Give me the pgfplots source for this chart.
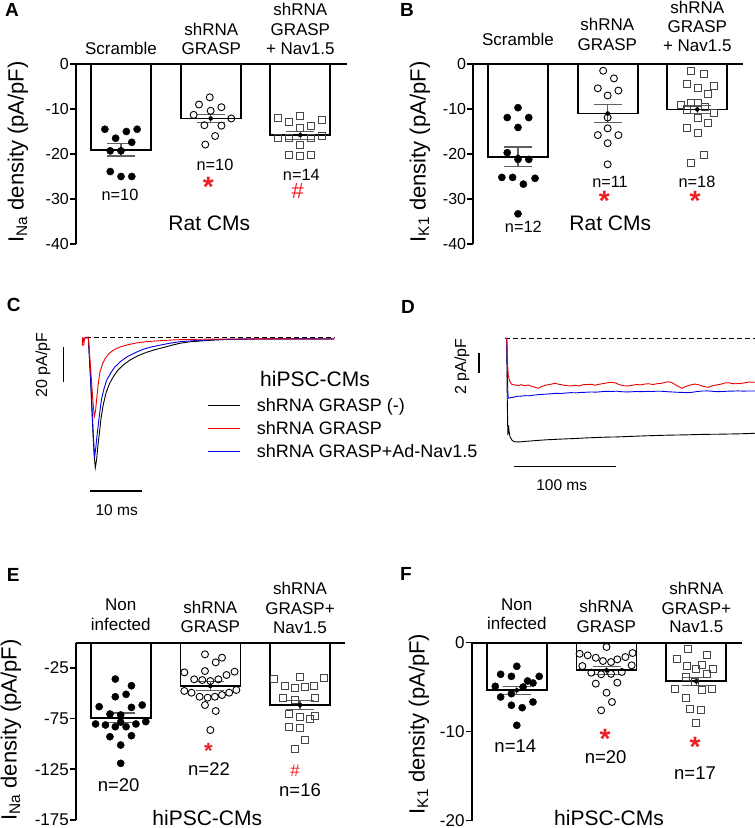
\documentclass[border=0pt]{standalone}
\usepackage{fontspec}
\setmainfont{Liberation Sans}
\usepackage{pgfplots}
\pgfplotsset{compat=1.18}
\newcommand\fs[1]{\fontsize{#1}{#1}\selectfont}
\definecolor{sigred}{RGB}{235,30,35}
\definecolor{trred}{RGB}{235,0,0}
\definecolor{trblue}{RGB}{0,0,235}
\definecolor{errgray}{RGB}{95,95,95}
\definecolor{sqgray}{RGB}{70,70,70}

\pgfplotsset{
  barpanel/.style={
    anchor=south west, clip=false,
    axis x line=top, axis y line=left,
    axis line style={-, line width=1.7pt},
    every outer x axis line/.append style={-},
    every outer y axis line/.append style={-},
    xtick=\empty,
    tick align=outside, major tick length=6pt,
    major tick style={line width=1.5pt, black},
    yticklabel style={inner sep=1pt},
  },
  bars/.style={ybar, bar width=60pt, bar shift=0pt, draw=black, line width=1.7pt, fill=white},
  filled/.style={only marks, mark=*, mark size=3.6pt, black},
  opencirc/.style={only marks, mark=o, mark size=3.5pt, black, mark options={line width=0.9pt}},
  opensq/.style={only marks, mark=square, mark size=3.5pt, sqgray, mark options={line width=0.9pt}},
  sem/.style={only marks, mark=none, error bars/.cd, y dir=both, y explicit,
    error bar style={line width=1.1pt, errgray},
    error mark options={rotate=90, mark size=14pt, line width=1.1pt, errgray}},
  trace/.style={hide axis, anchor=south west, clip=false},
}

\begin{document}
\begin{tikzpicture}
\path[use as bounding box] (0pt,0pt) rectangle (755pt,-828pt);

% ---------------- A ----------------
\begin{axis}[barpanel, at={(76pt,-244pt)}, x=89.65pt, y=4.5pt,
  xmin=-0.502, xmax=2.52, ymin=-40, ymax=0,
  ytick={-40,-30,-20,-10,0}, yticklabels={-40,-30,-20,-10,0},
  yticklabel style={font=\fs{16}}]
\addplot[bars] coordinates {(0,-19.1) (1,-12.1) (2,-15.8)};
\addplot[filled] coordinates {(-0.18,-14.5) (0.06,-15.0) (0.18,-14.5) (-0.06,-16.5) (0.12,-17.4)
  (-0.12,-19.3) (0,-19.3) (-0.12,-23.9) (0,-25.0) (0.12,-25.0)};
\addplot[opencirc] coordinates {(0.99,-7.4) (0.87,-9.0) (1.12,-9.6) (1.0,-10.4) (0.81,-11.3)
  (1.23,-12.1) (0.93,-13.6) (1.12,-13.7) (1.05,-16.0) (0.94,-17.9)};
\addplot[opensq] coordinates {(1.75,-11.9) (2.0,-11.6) (2.24,-12.4) (1.87,-12.8) (2.12,-13.7)
  (2.0,-14.1) (1.75,-16.5) (1.87,-16.5) (2.12,-16.5) (2.24,-16.0) (2.0,-18.0) (1.87,-20.2)
  (2.0,-20.4) (2.12,-20.2)};
\addplot[sem] coordinates {(0,-19.1) +- (0,1.35) (1,-12.1) +- (0,0.95) (2,-15.8) +- (0,0.9)};
\end{axis}

% ---------------- B ----------------
\begin{axis}[barpanel, at={(473.3pt,-244pt)}, x=89.65pt, y=4.5pt,
  xmin=-0.4986, xmax=2.513, ymin=-40, ymax=0,
  ytick={-40,-30,-20,-10,0}, yticklabels={-40,-30,-20,-10,0},
  yticklabel style={font=\fs{16}}]
\addplot[bars] coordinates {(0,-20.6) (1,-11.0) (2,-10.1)};
\addplot[filled] coordinates {(0,-9.7) (-0.12,-11.9) (0.12,-11.9) (0,-14.1) (-0.12,-19.7)
  (0,-21.2) (0.12,-21.2) (-0.18,-25.2) (-0.06,-25.2) (0.06,-26.7) (0.19,-25.4) (0,-33.3)};
\addplot[opencirc] coordinates {(0.95,-1.5) (1.07,-3.2) (0.89,-5.4) (1.12,-5.9) (1.0,-7.0)
  (1.0,-11.9) (1.0,-14.3) (0.89,-15.8) (1.12,-15.8) (1.0,-17.6) (1.0,-22.3)};
\addplot[opensq] coordinates {(1.93,-1.6) (2.07,-2.3) (1.88,-4.5) (2.01,-5.3) (2.19,-4.9)
  (2.12,-6.7) (1.82,-9.0) (1.93,-8.7) (1.89,-10.1) (2.01,-8.7) (2.08,-9.5) (2.19,-10.8)
  (2.01,-11.9) (2.12,-13.0) (1.88,-14.3) (2.01,-15.3) (1.93,-21.9) (2.07,-20.1)};
\addplot[sem] coordinates {(0,-20.6) +- (0,2.15) (1,-11.0) +- (0,2.0) (2,-10.1) +- (0,0.95)};
\end{axis}

% ---------------- C ----------------
\begin{axis}[trace, at={(80.83pt,-477.3pt)}, x=5.17pt, y=1.75pt,
  xmin=-1, xmax=48, ymin=-80, ymax=2]
\addplot[black, line width=1.4pt, dash pattern=on 5pt off 3pt] coordinates {(0,0) (48,0)};
\addplot[black, line width=0.9pt] coordinates {(-0.2,0) (0.45,0) (0.9,-25) (1.35,-55) (1.6,-68)
  (1.8,-74.5) (2.05,-70) (2.3,-62) (2.55,-55.8) (2.9,-46.5) (3.32,-38.7) (3.9,-31.5) (4.6,-26.1)
  (5.4,-22) (6.2,-18.7) (7.3,-15.6) (8.5,-13.0) (10,-10.6) (11.7,-8.6) (13.3,-7.1) (14.9,-5.9)
  (16.5,-4.6) (18.2,-3.4) (20,-2.6) (22.1,-2.1) (24.5,-1.6) (27.2,-1.2) (31,-1.0) (36,-0.9)
  (42,-0.9) (48,-1.0)};
\addplot[trblue, line width=0.9pt] coordinates {(-0.6,0) (-0.6,-3) (-0.3,-0.5) (0.45,0) (0.9,-24)
  (1.35,-52) (1.65,-68.8) (1.9,-63) (2.1,-57) (2.37,-50.1) (2.7,-42) (3.03,-34.9) (3.5,-29.2)
  (4.0,-24.5) (4.8,-20.3) (5.6,-16.9) (6.7,-13.8) (7.9,-11.2) (9.5,-8.8) (11.1,-6.8) (12.7,-5.5)
  (14.3,-4.5) (16.2,-3.4) (18.2,-2.5) (21,-1.9) (24,-1.5) (29,-1.1) (36,-0.9) (48,-0.9)};
\addplot[trred, line width=0.9pt] coordinates {(-0.7,0) (-0.7,-4.5) (-0.4,-4.2) (-0.3,-0.5)
  (0.45,0) (0.9,-18) (1.3,-35) (1.6,-45.3) (1.85,-42) (2.07,-35.0) (2.4,-26) (2.7,-19.8)
  (3.2,-15.2) (3.7,-12.1) (4.4,-9.4) (5.3,-7.3) (6.5,-5.6) (7.9,-4.4) (9.6,-3.3) (11.7,-2.5)
  (14.5,-1.9) (17.6,-1.4) (22,-1.1) (27,-1.0) (35,-0.9) (48,-1.0)};
\end{axis}

% ---------------- D ----------------
\begin{axis}[trace, at={(505pt,-449.5pt)}, x=1.013pt, y=9.67pt,
  xmin=0, xmax=247, ymin=-11.5, ymax=0.5]
\addplot[black, line width=1.4pt, dash pattern=on 5pt off 3pt] coordinates {(0,0) (247,0)};
\addplot[black, line width=0.9pt] coordinates {(0,0) (1.7,0) (2.2,-6) (2.8,-10.0) (3.2,-9.6)
  (3.5,-9.0) (4.0,-9.6) (5.0,-10.2) (7,-10.55) (9,-10.68) (12,-10.72) (16,-10.7) (20,-10.66)
  (25,-10.62) (30,-10.58) (40,-10.5) (50,-10.45) (60,-10.4) (70,-10.36) (80,-10.3) (90,-10.26)
  (100,-10.22) (110,-10.2) (120,-10.16) (130,-10.12) (140,-10.08) (150,-10.05) (160,-10.02)
  (170,-10.0) (180,-9.98) (190,-9.95) (200,-9.93) (210,-9.92) (220,-9.9) (230,-9.88)
  (240,-9.85) (246.8,-9.82)};
\addplot[trblue, line width=0.9pt] coordinates {(0,0) (1.7,0) (2.3,-3.5) (2.8,-5.6) (3.3,-6.2)
  (5,-6.15) (8,-6.1) (12,-6.0) (16,-5.98) (20,-5.93) (24,-5.95) (28,-5.88) (32,-5.84) (36,-5.8)
  (40,-5.78) (45,-5.74) (50,-5.69) (55,-5.71) (60,-5.66) (65,-5.62) (70,-5.64) (75,-5.6)
  (80,-5.58) (85,-5.55) (90,-5.57) (95,-5.52) (100,-5.48) (105,-5.5) (110,-5.47) (115,-5.52)
  (120,-5.55) (125,-5.53) (130,-5.5) (135,-5.52) (140,-5.49) (145,-5.5) (150,-5.47) (155,-5.48)
  (160,-5.52) (165,-5.55) (170,-5.58) (175,-5.6) (180,-5.62) (185,-5.58) (190,-5.5) (195,-5.45)
  (200,-5.44) (205,-5.48) (210,-5.52) (215,-5.5) (220,-5.47) (225,-5.46) (230,-5.44)
  (235,-5.46) (240,-5.45) (246.8,-5.45)};
\addplot[trred, line width=0.9pt] coordinates {(0,0) (1.7,0) (2.5,-2.5) (3.2,-3.8) (4.5,-4.4)
  (6.5,-4.75) (9.9,-4.83) (13,-4.88) (16,-4.8) (19,-4.9) (23,-4.83) (26,-4.95) (29,-5.05)
  (32.9,-5.17) (36,-5.0) (40,-4.85) (44,-4.78) (49.4,-4.65) (53,-4.75) (57,-4.82) (61,-4.9)
  (65.8,-4.93) (69,-4.85) (73,-4.92) (77,-4.8) (81,-4.78) (85.5,-4.76) (89,-4.85) (93,-4.75)
  (97,-4.68) (101,-4.6) (105.3,-4.55) (109,-4.62) (113,-4.8) (117,-4.9) (121.8,-4.93)
  (126,-4.85) (130,-4.78) (134,-4.82) (138.2,-4.73) (142,-4.7) (146,-4.78) (150,-4.7)
  (154.7,-4.65) (158,-4.55) (161.3,-4.49) (165,-4.6) (169,-4.85) (174.4,-5.17) (178,-5.0)
  (182,-4.85) (187.6,-4.73) (191,-4.8) (195,-4.95) (200.7,-5.07) (205,-4.9) (209,-4.82)
  (213,-4.75) (217,-4.62) (220.5,-4.59) (224,-4.68) (228,-4.7) (233.7,-4.65) (237,-4.6)
  (241,-4.52) (246.8,-4.55)};
\end{axis}

% ---------------- E ----------------
\begin{axis}[barpanel, at={(76pt,-819.8pt)}, x=89.65pt, y=1.012pt,
  xmin=-0.4986, xmax=2.502, ymin=-175, ymax=0,
  ytick={-175,-125,-75,-25}, yticklabels={-175,-125,-75,-25},
  yticklabel style={font=\fs{17}}]
\addplot[bars] coordinates {(0,-74.1) (1,-42.8) (2,-61.6)};
\addplot[filled] coordinates {(-0.06,-35.9) (0.12,-42.5) (-0.06,-53.4) (0.06,-51.0) (-0.24,-63.2)
  (0.12,-63.9) (0.24,-61.6) (-0.12,-70.5) (0,-71.4) (-0.28,-80.3) (-0.17,-81.3) (-0.06,-83.0)
  (0.06,-83.0) (0.17,-80.3) (0.28,-78.0) (0,-78.5) (-0.12,-92.9) (0.12,-91.9) (0,-101.1)
  (0,-119.2)};
\addplot[opencirc] coordinates {(0.94,-11.5) (1.13,-14.8) (1.06,-19.4) (0.94,-28.0) (0.71,-29.3)
  (1.27,-28.6) (0.82,-36.2) (0.91,-36.9) (1.0,-37.8) (1.09,-36.2) (1.18,-31.9) (0.71,-47.7)
  (0.79,-49.4) (0.88,-53.4) (0.97,-54.3) (1.05,-53.4) (1.13,-51.7) (1.21,-49.4) (1.29,-46.7)
  (0.94,-61.6) (1.06,-67.5) (1.0,-86.3)};
\addplot[opensq] coordinates {(1.71,-35.9) (2.0,-34.2) (2.27,-35.2) (1.83,-42.8) (1.94,-45.1)
  (2.05,-43.5) (2.16,-42.8) (1.81,-54.3) (1.94,-56.6) (2.17,-54.3) (1.88,-70.8) (2.0,-73.1)
  (2.11,-75.4) (2.17,-72.1) (1.88,-83.0) (2.0,-84.0) (2.06,-96.1) (1.94,-105.0)};
\addplot[sem] coordinates {(0,-74.1) +- (0,4.6) (1,-42.8) +- (0,4.1) (2,-61.6) +- (0,4.1)};
\end{axis}

% ---------------- F ----------------
\begin{axis}[barpanel, at={(471.7pt,-820.7pt)}, x=89.75pt, y=8.9pt,
  xmin=-0.5025, xmax=2.506, ymin=-20, ymax=0,
  ytick={-20,-10,0}, yticklabels={-20,-10,0},
  yticklabel style={font=\fs{17}}]
\addplot[bars] coordinates {(0,-5.35) (1,-3.1) (2,-4.34)};
\addplot[filled] coordinates {(0,-2.65) (-0.18,-3.55) (-0.06,-3.78) (0.25,-3.78) (0.12,-4.3)
  (0.18,-4.53) (-0.24,-4.9) (0.07,-4.98) (-0.06,-5.73) (-0.18,-6.1) (-0.06,-7.03) (0.06,-7.3)
  (0.18,-6.66) (0,-9.28)};
\addplot[opencirc] coordinates {(1.0,-0.48) (0.70,-1.24) (0.79,-1.42) (0.88,-1.69) (0.96,-2.06)
  (1.05,-2.17) (1.12,-1.87) (1.21,-1.61) (1.29,-1.16) (0.73,-2.62) (1.28,-2.54) (0.83,-3.37)
  (0.94,-3.55) (1.05,-3.5) (1.17,-3.29) (0.88,-4.6) (1.12,-4.49) (1.0,-5.62) (1.06,-6.66)
  (0.94,-7.6)};
\addplot[opensq] coordinates {(1.91,-0.67) (2.12,-1.35) (1.78,-1.87) (1.90,-2.65) (2.0,-2.99)
  (2.06,-2.54) (2.18,-2.92) (2.12,-3.48) (1.88,-3.85) (1.99,-4.42) (1.76,-5.24) (2.06,-5.35)
  (2.17,-5.24) (1.88,-6.21) (1.93,-7.48) (2.05,-7.6) (2.0,-8.99)};
\addplot[sem] coordinates {(0,-5.35) +- (0,0.45) (1,-3.1) +- (0,0.45) (2,-4.34) +- (0,0.45)};
\end{axis}

% ---------------- texts ----------------
\begin{scope}[every node/.style={inner sep=0pt}]
% panel letters
\foreach \l/\x/\y in {A/5/16.7, B/400/16.7, C/6.7/311.7, D/401/313.3, E/6.7/581.7, F/400/580}
  \node[anchor=base west, font=\fs{19}\bfseries] at (\x pt,-\y pt) {\l};
% y labels
\node[rotate=90, font=\fs{22}] at (18pt,-152pt) {I\textsubscript{Na} density (pA/pF)};
\node[rotate=90, font=\fs{22}] at (420pt,-152pt) {I\textsubscript{K1} density (pA/pF)};
\node[rotate=90, font=\fs{22}] at (11pt,-730pt) {I\textsubscript{Na} density (pA/pF)};
\node[rotate=90, font=\fs{22}] at (419pt,-724pt) {I\textsubscript{K1} density (pA/pF)};
% A
\begin{scope}[every node/.append style={anchor=base, font=\fs{17}}]
\node at (121pt,-54pt) {Scramble};
\node at (211.3pt,-35pt) {shRNA};
\node at (211.3pt,-54pt) {GRASP};
\node at (300.3pt,-15pt) {shRNA};
\node at (300.3pt,-35pt) {GRASP};
\node at (300.3pt,-54pt) {+ Nav1.5};
% B
\node at (518pt,-45pt) {Scramble};
\node at (607.3pt,-30pt) {shRNA};
\node at (607.3pt,-50pt) {GRASP};
\node at (697.3pt,-13pt) {shRNA};
\node at (697.3pt,-32.5pt) {GRASP};
\node at (697.3pt,-51.5pt) {+ Nav1.5};
% E
\node at (120.7pt,-610.7pt) {Non};
\node at (120.7pt,-630pt) {infected};
\node at (210.3pt,-613.3pt) {shRNA};
\node at (210.3pt,-632.7pt) {GRASP};
\node at (300pt,-594pt) {shRNA};
\node at (300pt,-614pt) {GRASP+};
\node at (300pt,-633.3pt) {Nav1.5};
% F
\node at (516.8pt,-610pt) {Non};
\node at (516.8pt,-629.3pt) {infected};
\node at (606.3pt,-612.7pt) {shRNA};
\node at (606.3pt,-632.7pt) {GRASP};
\node at (696.3pt,-594pt) {shRNA};
\node at (696.3pt,-614pt) {GRASP+};
\node at (696.3pt,-632.7pt) {Nav1.5};
\end{scope}
% n labels
\begin{scope}[every node/.append style={anchor=base, font=\fs{16.3}}]
\node at (120pt,-200pt) {n=10};
\node at (215pt,-170.7pt) {n=10};
\node at (301.3pt,-180pt) {n=14};
\node at (523.3pt,-232.7pt) {n=12};
\node at (610pt,-187.7pt) {n=11};
\node at (697pt,-187.7pt) {n=18};
\end{scope}
\begin{scope}[every node/.append style={anchor=base, font=\fs{18.5}}]
\node at (118.7pt,-791.7pt) {n=20};
\node at (209pt,-775pt) {n=22};
\node at (300pt,-796pt) {n=16};
\node at (515.3pt,-752.7pt) {n=14};
\node at (605.7pt,-763pt) {n=20};
\node at (695pt,-779pt) {n=17};
\end{scope}
% significance marks
\begin{scope}[every node/.append style={anchor=base, text=sigred}]
\node[font=\fs{28}\bfseries] at (208.3pt,-196pt) {*};
\node[font=\fs{22}] at (297.7pt,-198.5pt) {\#};
\node[font=\fs{28}\bfseries] at (604.3pt,-210.5pt) {*};
\node[font=\fs{28}\bfseries] at (695pt,-210.5pt) {*};
\node[font=\fs{22}\bfseries] at (208.3pt,-758pt) {*};
\node[font=\fs{17}] at (295pt,-776.5pt) {\#};
\node[font=\fs{28}\bfseries] at (605pt,-748.5pt) {*};
\node[font=\fs{28}\bfseries] at (695pt,-756.7pt) {*};
\end{scope}
% group titles
\begin{scope}[every node/.append style={anchor=base, font=\fs{21}}]
\node at (209.3pt,-230.7pt) {Rat CMs};
\node at (610.3pt,-230.7pt) {Rat CMs};
\node at (207.3pt,-825pt) {hiPSC-CMs};
\node at (609pt,-825pt) {hiPSC-CMs};
\end{scope}
% C legend
\node[anchor=base west, font=\fs{21}] at (260pt,-386.7pt) {hiPSC-CMs};
\draw[black, line width=0.9pt] (208.3pt,-405pt) -- (240pt,-405pt);
\draw[trred, line width=0.9pt] (208.3pt,-428.3pt) -- (240pt,-428.3pt);
\draw[trblue, line width=0.9pt] (208.3pt,-451pt) -- (240pt,-451pt);
\node[anchor=base west, font=\fs{18}] at (256.7pt,-411.4pt) {shRNA GRASP (-)};
\node[anchor=base west, font=\fs{18}] at (256.7pt,-434.7pt) {shRNA GRASP};
\node[anchor=base west, font=\fs{18}] at (256.7pt,-457.4pt) {shRNA GRASP+Ad-Nav1.5};
% scale bars
\draw[line width=1.3pt] (63.5pt,-346.7pt) -- (63.5pt,-381.7pt);
\node[rotate=90, font=\fs{16}] at (43pt,-365pt) {20 pA/pF};
\draw[line width=1.3pt] (90pt,-491pt) -- (141.7pt,-491pt);
\node[anchor=base, font=\fs{15.5}] at (116.7pt,-515pt) {10 ms};
\draw[line width=1.3pt] (479pt,-353.3pt) -- (479pt,-372.7pt);
\node[rotate=90, font=\fs{16}] at (462pt,-366.7pt) {2 pA/pF};
\draw[line width=1.3pt] (514.3pt,-466.7pt) -- (615.7pt,-466.7pt);
\node[anchor=base, font=\fs{15.5}] at (561.7pt,-490pt) {100 ms};
\end{scope}
\end{tikzpicture}
\end{document}
